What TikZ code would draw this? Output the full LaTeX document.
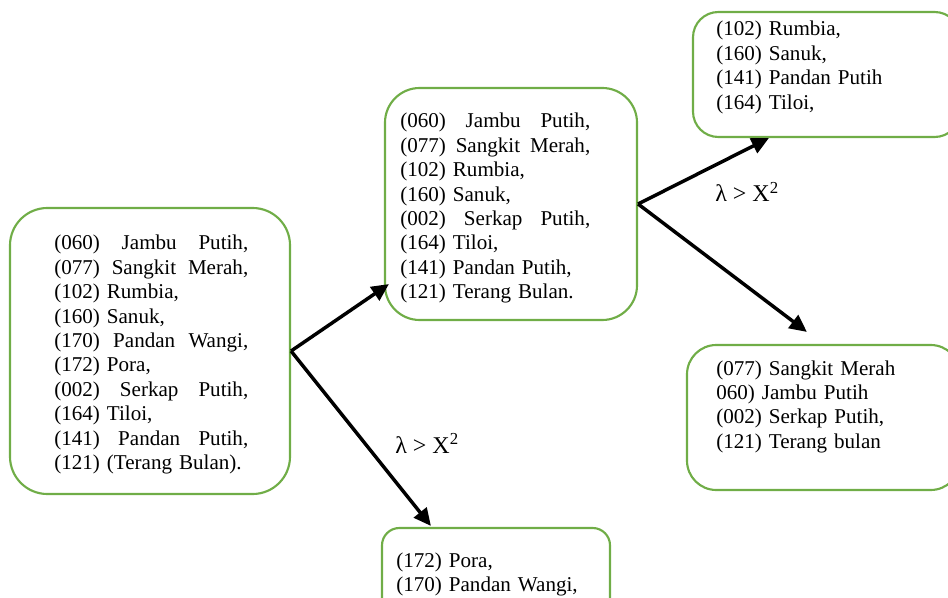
\documentclass[tikz,border=0pt]{standalone}
\usepackage{fontspec}
\setmainfont{Liberation Serif}
\usetikzlibrary{arrows.meta,calc}

\definecolor{hijau}{RGB}{112,173,71}
\newcommand{\isifont}{\fontsize{15.8}{18.3}\selectfont}

\tikzset{
  kotak/.style={draw=hijau, line width=1.6pt, inner sep=0pt},
  isi/.style={anchor=base west, inner sep=0pt, align=left, font=\isifont},
  panah/.style={line width=2.6pt, -{Triangle[length=13pt,width=12pt]}},
  syarat/.style={anchor=base west, inner sep=0pt, font=\fontsize{18}{20}\selectfont},
}

\begin{document}
\begin{tikzpicture}[x=0.75pt,y=-0.75pt]

\clip (0,0) rectangle (948,598);

% kotak
\node[kotak, rounded corners=28pt, minimum width=210pt, minimum height=214.5pt] (awal) at (150,351) {};
\node[kotak, rounded corners=26pt, minimum width=189pt, minimum height=174pt] (tengah) at (511,204) {};
\node[kotak, rounded corners=19pt, minimum width=200.25pt, minimum height=93.75pt] (atas) at (826.5,74.5) {};
\node[kotak, rounded corners=22pt, minimum width=204.75pt, minimum height=108.75pt] (kanan) at (823.5,417.5) {};
\node[kotak, rounded corners=13pt, minimum width=171pt, minimum height=91.5pt] (bawah) at (496,589) {};

% isi kotak
\node[isi, text width=145.5pt] (awal-isi) at (54,250) {%
(060)\hfill Jambu\hfill Putih,\\
(077)\hfill Sangkit\hfill Merah,\\
(102) Rumbia,\\
(160) Sanuk,\\
(170)\hfill Pandan\hfill Wangi,\\
(172) Pora,\\
(002)\hfill Serkap\hfill Putih,\\
(164) Tiloi,\\
(141)\hfill Pandan\hfill Putih,\\
(121) (Terang Bulan).};

\node[isi, text width=142.5pt] (tengah-isi) at (400,128) {%
(060)\hfill Jambu\hfill Putih,\\
(077)\hfill Sangkit\hfill Merah,\\
(102) Rumbia,\\
(160) Sanuk,\\
(002)\hfill Serkap\hfill Putih,\\
(164) Tiloi,\\
(141) Pandan Putih,\\
(121) Terang Bulan.};

\node[isi, text width=180pt] (atas-isi) at (716,36) {%
(102) Rumbia,\\
(160) Sanuk,\\
(141) Pandan Putih\\
(164) Tiloi,};

\node[isi, text width=180pt] (kanan-isi) at (716,375) {%
(077) Sangkit Merah\\
060) Jambu Putih\\
(002) Serkap Putih,\\
(121) Terang bulan};

\node[isi, text width=160pt] (bawah-isi) at (396,567) {%
(172) Pora,\\
(170) Pandan Wangi,};

% panah
\draw[panah] (awal.east) -- ($(tengah.south west)+(5,-37)$);
\draw[panah] (awal.east) -- ($(bawah.north west)+(50,-1)$);
\draw[panah] (tengah.east) -- ($(atas.south west)+(77,0)$);
\draw[panah] (tengah.east) -- ($(kanan.north west)+(121,-12)$);

\node[syarat] (syarat-bawah) at (395,453) {λ > X\textsuperscript{2}};
\node[syarat] (syarat-atas) at (715,202) {λ > X\textsuperscript{2}};

\end{tikzpicture}
\end{document}
